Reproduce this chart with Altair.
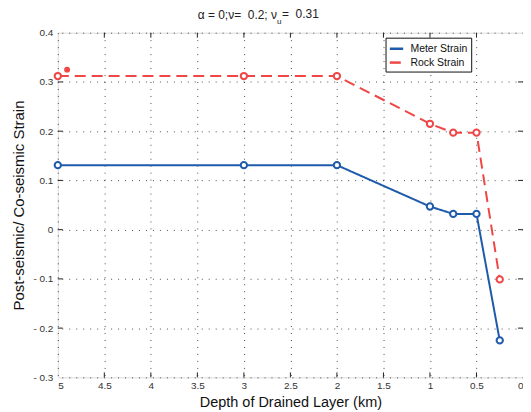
import altair as alt
import pandas as pd

depth = [5, 3, 2, 1, 0.75, 0.5, 0.25]
meter = [0.131, 0.131, 0.131, 0.047, 0.032, 0.032, -0.225]
rock = [0.312, 0.312, 0.312, 0.215, 0.197, 0.197, -0.101]
extra_depth = [4.9]
extra_val = [0.325]
series = ["Meter Strain", "Rock Strain"]
colors = ["#1f5bab", "#ef4646"]
x_ticks = [5, 4.5, 4, 3.5, 3, 2.5, 2, 1.5, 1, 0.5, 0]
y_ticks = [-0.3, -0.2, -0.1, 0, 0.1, 0.2, 0.3, 0.4]

W, H = 467, 346
FONT = "Liberation Sans"
NB = "\u00a0"

df = pd.DataFrame({
    "depth": depth * 2,
    "val": meter + rock,
    "series": [series[0]] * len(depth) + [series[1]] * len(depth),
})
extra = pd.DataFrame({"depth": extra_depth, "val": extra_val})
xt = pd.DataFrame({"t": x_ticks[1:-1]})
yt = pd.DataFrame({"t": y_ticks[1:-1]})

xs = alt.Scale(domain=[0, 5], reverse=True, nice=False, zero=False)
ys = alt.Scale(domain=[-0.3, 0.4], nice=False, zero=False)
cs = alt.Scale(domain=series, range=colors)
ds = alt.Scale(domain=series, range=[[1, 0], [11, 6]])

xaxis = alt.Axis(values=x_ticks, format="~g", title="Depth of Drained Layer (km)",
                 grid=True, gridDash=[1, 6], gridColor="#000", gridOpacity=0.7,
                 ticks=False, tickSize=0, labelPadding=3, domain=False,
                 labelFont=FONT, labelFontSize=10, labelColor="#333",
                 titleFont=FONT, titleFontSize=14.5, titleFontWeight="normal",
                 titlePadding=5, titleColor="#111")
yaxis = alt.Axis(values=y_ticks,
                 labelExpr="datum.value < -0.001 ? '-\u00a0' + format(-datum.value, '.1f') : (abs(datum.value) < 0.001 ? '0' : format(datum.value, '.1f'))",
                 title="Post-seismic/ Co-seismic Strain",
                 grid=True, gridDash=[1, 6], gridColor="#000", gridOpacity=0.7,
                 ticks=False, tickSize=0, labelPadding=5, domain=False,
                 labelFont=FONT, labelFontSize=10, labelColor="#333",
                 titleFont=FONT, titleFontSize=15, titleFontWeight="normal",
                 titlePadding=6, titleColor="#111")

base = alt.Chart(df)

lines = base.mark_line(strokeWidth=2).encode(
    x=alt.X("depth:Q", scale=xs, axis=xaxis),
    y=alt.Y("val:Q", scale=ys, axis=yaxis),
    color=alt.Color("series:N", scale=cs, legend=alt.Legend(
        title=None, orient="none", legendX=329, legendY=5,
        fillColor="white", strokeColor="#111", padding=3, rowPadding=0,
        symbolType="stroke", symbolSize=180, symbolStrokeWidth=2.5,
        labelFont=FONT, labelFontSize=10.5, labelColor="#111", labelOffset=6)),
    strokeDash=alt.StrokeDash("series:N", scale=ds, legend=None),
    order=alt.Order("depth:Q", sort="descending"),
)

pts = base.mark_point(shape="circle", filled=False, fill="white", size=40, strokeWidth=2, opacity=1).encode(
    x=alt.X("depth:Q", scale=xs),
    y=alt.Y("val:Q", scale=ys),
    color=alt.Color("series:N", scale=cs, legend=None),
)

ext = alt.Chart(extra).mark_point(shape="circle", filled=True, size=35, color=colors[1], opacity=1).encode(
    x=alt.X("depth:Q", scale=xs),
    y=alt.Y("val:Q", scale=ys),
)

xtick_b = alt.Chart(xt).mark_rule(color="#222").encode(
    x=alt.X("t:Q", scale=xs), y=alt.value(H), y2=alt.value(H - 5))
xtick_t = alt.Chart(xt).mark_rule(color="#222").encode(
    x=alt.X("t:Q", scale=xs), y=alt.value(0), y2=alt.value(5))
ytick_l = alt.Chart(yt).mark_rule(color="#222").encode(
    y=alt.Y("t:Q", scale=ys), x=alt.value(0), x2=alt.value(5))
ytick_r = alt.Chart(yt).mark_rule(color="#222").encode(
    y=alt.Y("t:Q", scale=ys), x=alt.value(W), x2=alt.value(W - 5))

title_parts = ["α = 0;ν=" + NB + NB + "0.2;" + NB + "ν", "u", "=" + NB + NB + "0.31"]
t1 = alt.Chart(pd.DataFrame({"s": [title_parts[0]]})).mark_text(
    align="right", baseline="middle", font=FONT, fontSize=12, color="#222"
).encode(text="s:N", x=alt.value(220), y=alt.value(-18))
t2 = alt.Chart(pd.DataFrame({"s": [title_parts[1]]})).mark_text(
    align="left", baseline="middle", font=FONT, fontSize=8, color="#222"
).encode(text="s:N", x=alt.value(220), y=alt.value(-11))
t3 = alt.Chart(pd.DataFrame({"s": [title_parts[2]]})).mark_text(
    align="left", baseline="middle", font=FONT, fontSize=12, color="#222"
).encode(text="s:N", x=alt.value(225), y=alt.value(-19))

chart = alt.layer(
    lines, xtick_b, xtick_t, ytick_l, ytick_r, pts, ext, t1, t2, t3
).resolve_scale(color="shared").properties(
    width=W, height=H,
    autosize=alt.AutoSizeParams(type="none"),
    padding={"left": 50, "top": 24, "right": 0, "bottom": 40},
).configure_view(stroke="#222", strokeWidth=2).configure(background="white")

chart.save("out.html", embed_options={"renderer": "svg", "actions": False})
